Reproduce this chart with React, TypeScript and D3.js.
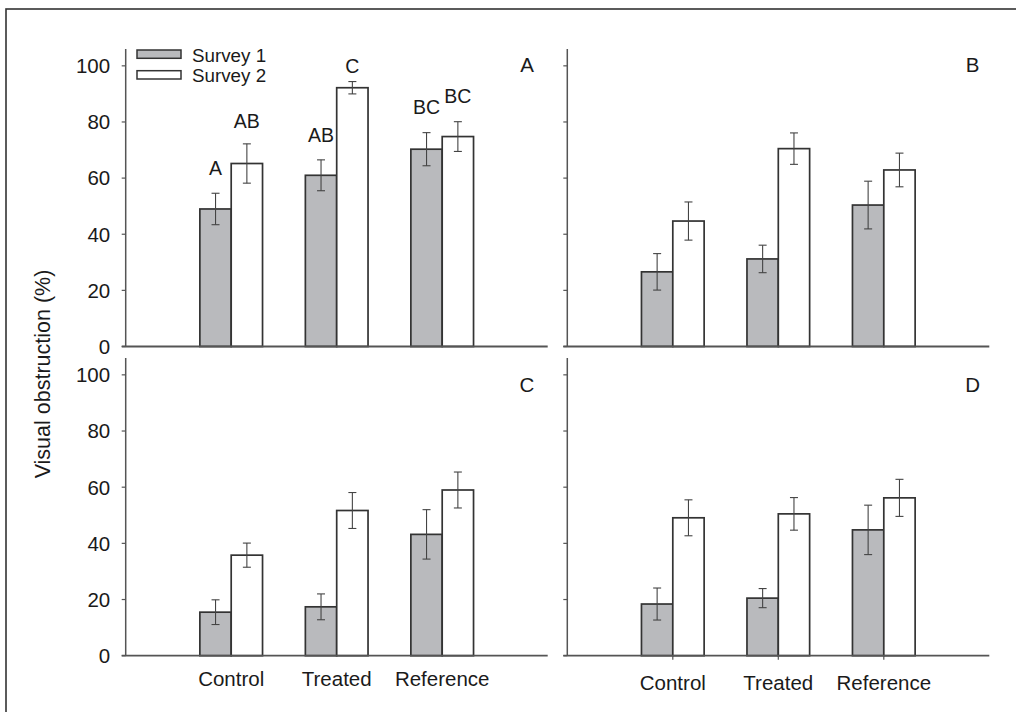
import React from 'react';
import * as d3 from 'd3';

const categories = ['Control', 'Treated', 'Reference'];
const seriesNames = ['Survey 1', 'Survey 2'];
const seriesFills = ['#b9babd', '#ffffff'];
const panelNames = ['A', 'B', 'C', 'D'];
const yTicks = [0, 20, 40, 60, 80, 100];

// Panel A
const survey1A = [49.0, 61.0, 70.3];
const survey1AErr = [5.6, 5.5, 5.9];
const survey2A = [65.2, 92.2, 74.8];
const survey2AErr = [7.0, 2.2, 5.3];
// Panel B
const survey1B = [26.6, 31.2, 50.4];
const survey1BErr = [6.5, 4.9, 8.5];
const survey2B = [44.7, 70.5, 62.9];
const survey2BErr = [6.8, 5.6, 6.0];
// Panel C
const survey1C = [15.5, 17.4, 43.2];
const survey1CErr = [4.4, 4.6, 8.8];
const survey2C = [35.8, 51.7, 59.0];
const survey2CErr = [4.3, 6.4, 6.4];
// Panel D
const survey1D = [18.4, 20.5, 44.8];
const survey1DErr = [5.7, 3.4, 8.8];
const survey2D = [49.1, 50.5, 56.2];
const survey2DErr = [6.4, 5.8, 6.6];

// Significance letters in panel A (order: Control S1, Control S2, Treated S1, ...)
const sigLetters = ['A', 'AB', 'AB', 'C', 'BC', 'BC'];
const sigLetterY = [61.0, 77.7, 72.9, 97.4, 83.0, 86.9];

const panelData = [
  { s1: survey1A, e1: survey1AErr, s2: survey2A, e2: survey2AErr },
  { s1: survey1B, e1: survey1BErr, s2: survey2B, e2: survey2BErr },
  { s1: survey1C, e1: survey1CErr, s2: survey2C, e2: survey2CErr },
  { s1: survey1D, e1: survey1DErr, s2: survey2D, e2: survey2DErr },
];

const FONT = '"Liberation Sans", Arial, Helvetica, sans-serif';
const TEXT = '#1a1a1a';
const AXIS = '#555';
const BAR_STROKE = '#333';

const layout = [
  { x0: 125.7, base: 346.5, top: 49, labels: true, catLabels: false, catTicks: false, lx: 527, ly: 72.3 },
  { x0: 567.3, base: 346.5, top: 49, labels: false, catLabels: false, catTicks: false, lx: 972.7, ly: 72.3 },
  { x0: 125.7, base: 655.7, top: 358, labels: true, catLabels: true, catTicks: false, lx: 527, ly: 391.7, catY: 686 },
  { x0: 567.3, base: 655.7, top: 358, labels: false, catLabels: true, catTicks: true, lx: 972.7, ly: 391.7, catY: 690 },
];
const PANEL_W = 422;

function Panel({ idx }: { idx: number }) {
  const L = layout[idx];
  const D = panelData[idx];
  const x = d3.scaleLinear().domain([0, categories.length + 1]).range([L.x0, L.x0 + PANEL_W]);
  const y = d3.scaleLinear().domain([0, 106]).range([L.base, L.top]);
  const step = x(1) - x(0);
  const bw = step * 0.297;
  const series = [
    { v: D.s1, e: D.e1 },
    { v: D.s2, e: D.e2 },
  ];
  const cap = 4;
  return (
    <g>
      <line x1={L.x0} x2={L.x0} y1={y(106)} y2={y(0)} stroke={AXIS} strokeWidth={1.5} />
      {yTicks.map((t) => (
        <g key={t}>
          <line x1={L.x0 - 4} x2={L.x0} y1={y(t)} y2={y(t)} stroke={AXIS} strokeWidth={1.2} />
          {L.labels && (
            <text x={L.x0 - 15.5} y={y(t)} dy="0.36em" textAnchor="end" fontSize={20.5} fontFamily={FONT} fill={TEXT}>
              {t}
            </text>
          )}
        </g>
      ))}
      {categories.map((c, i) => {
        const cx = x(i + 1);
        return (
          <g key={c}>
            {series.map((s, k) => {
              const bx = k === 0 ? cx - bw : cx;
              const v = s.v[i];
              const e = s.e[i];
              const ex = bx + bw / 2;
              return (
                <g key={k}>
                  <rect x={bx} y={y(v)} width={bw} height={y(0) - y(v)} fill={seriesFills[k]} stroke={BAR_STROKE} strokeWidth={1.7} />
                  <line x1={ex} x2={ex} y1={y(v + e)} y2={y(v - e)} stroke="#444" strokeWidth={1.1} />
                  <line x1={ex - cap} x2={ex + cap} y1={y(v + e)} y2={y(v + e)} stroke="#444" strokeWidth={1.1} />
                  <line x1={ex - cap} x2={ex + cap} y1={y(v - e)} y2={y(v - e)} stroke="#444" strokeWidth={1.1} />
                  {idx === 0 && (
                    <text x={ex} y={y(sigLetterY[i * 2 + k])} textAnchor="middle" fontSize={19.5} fontFamily={FONT} fill={TEXT}>
                      {sigLetters[i * 2 + k]}
                    </text>
                  )}
                </g>
              );
            })}
            {L.catTicks && <line x1={cx} x2={cx} y1={y(0)} y2={y(0) + 4} stroke={AXIS} strokeWidth={1.2} />}
            {L.catLabels && (
              <text x={cx} y={L.catY} textAnchor="middle" fontSize={20.5} fontFamily={FONT} fill={TEXT}>
                {c}
              </text>
            )}
          </g>
        );
      })}
      <line x1={L.x0 - 4} x2={L.x0 + PANEL_W} y1={y(0)} y2={y(0)} stroke={AXIS} strokeWidth={1.8} />
      <text x={L.lx} y={L.ly} textAnchor="middle" fontSize={20.5} fontFamily={FONT} fill={TEXT}>
        {panelNames[idx]}
      </text>
    </g>
  );
}

export default function App() {
  return (
    <svg width={1016} height={712} style={{ position: 'absolute', left: 0, top: 0, background: '#fff' }}>
      <rect x={0} y={0} width={1016} height={712} fill="#fff" />
      <rect x={6} y={9} width={1030} height={730} fill="none" stroke="#333" strokeWidth={1.6} />
      {layout.map((_, i) => (
        <Panel key={i} idx={i} />
      ))}
      {seriesNames.map((s, k) => (
        <g key={s}>
          <rect x={137} y={50 + k * 20.7} width={44} height={8.3} fill={seriesFills[k]} stroke={BAR_STROKE} strokeWidth={1.5} />
          <text x={192} y={61.5 + k * 20.5} fontSize={18.8} fontFamily={FONT} fill={TEXT}>
            {s}
          </text>
        </g>
      ))}
      <text
        transform={`translate(50,374) rotate(-90)`}
        textAnchor="middle"
        fontSize={21.5}
        fontFamily={FONT}
        fill={TEXT}
      >
        Visual obstruction (%)
      </text>
    </svg>
  );
}
